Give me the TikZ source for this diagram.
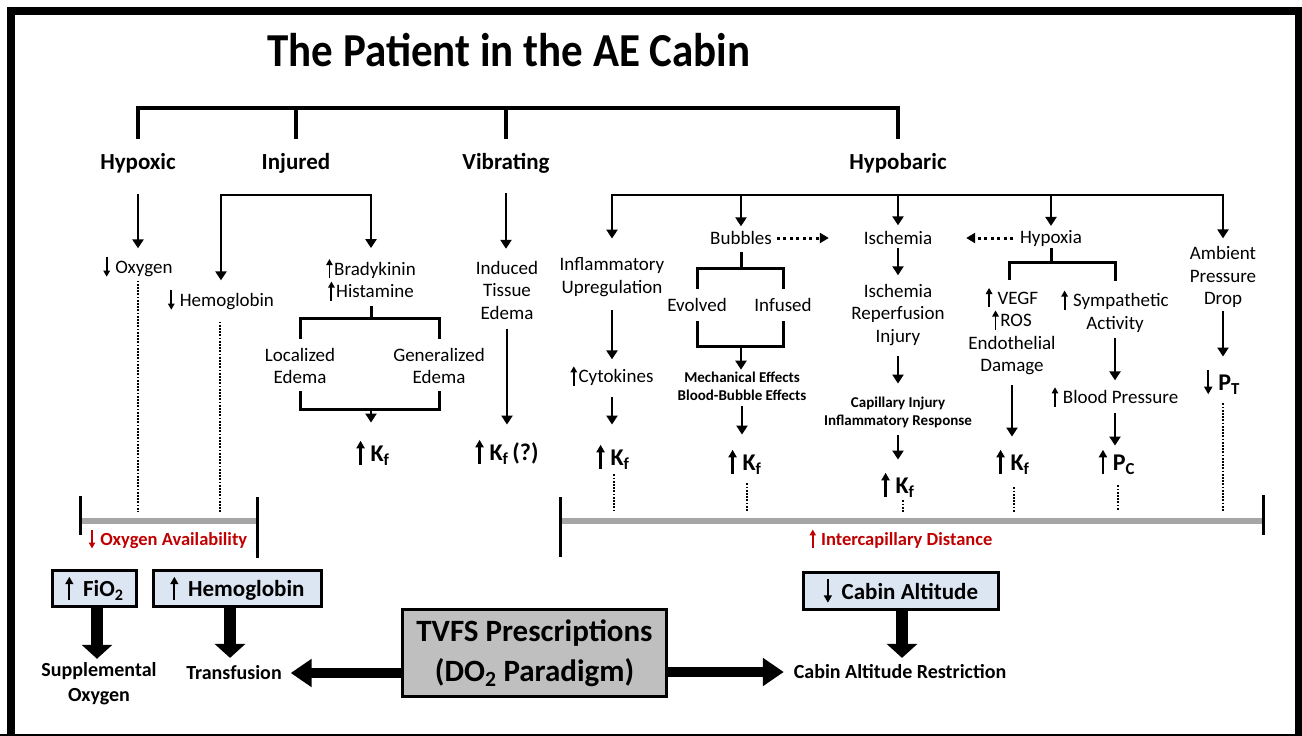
\documentclass[tikz,border=0pt]{standalone}
\usepackage{fontspec}
\setmainfont{Carlito}
\usepackage{graphicx}
\usetikzlibrary{arrows.meta,calc}
\definecolor{boxblue}{HTML}{DCE6F2}
\definecolor{boxgray}{HTML}{BFBFBF}
\definecolor{barg}{HTML}{A6A6A6}
\definecolor{redt}{HTML}{C00000}
\newcommand\UA{\tikz[baseline=0pt]\draw[line width=0.1em,-{Triangle[width=0.34em,length=0.32em]}] (0pt,-0.16em) -- (0pt,0.86em);\hspace{0.08em}}
\newcommand\DA{\tikz[baseline=0pt]\draw[line width=0.1em,-{Triangle[width=0.34em,length=0.32em]}] (0pt,0.86em) -- (0pt,-0.16em);\hspace{0.08em}}
\newcommand\gap{\hspace{0.2em}}
\begin{document}
\begin{tikzpicture}[x=1pt,y=-1pt,
  every node/.style={inner sep=0pt,outer sep=0pt,align=center},
  txt/.style={font=\fontsize{19}{22.5}\selectfont},
  cat/.style={font=\bfseries\fontsize{23}{27}\selectfont},
  sml/.style={font=\bfseries\fontsize{15}{18}\selectfont},
  kf/.style={font=\bfseries\fontsize{24}{28}\selectfont},
  redlbl/.style={text=redt,font=\bfseries\fontsize{18.5}{22}\selectfont},
  bot/.style={font=\bfseries\fontsize{20}{25}\selectfont},
  bbox/.style={draw,line width=3pt,fill=boxblue,minimum height=36pt,font=\bfseries\fontsize{23}{27}\selectfont},
  gbox/.style={draw,line width=3pt,fill=boxgray,minimum width=264pt,minimum height=87pt,font=\bfseries\fontsize{31}{40}\selectfont},
  topbr/.style={line width=4.5pt,line cap=rect},
  ln/.style={line width=3pt,line cap=rect},
  arr/.style={line width=2.8pt,line cap=rect,-{Triangle[width=11pt,length=9pt]}},
  dotl/.style={line width=2.8pt,dash pattern=on 1.7pt off 1.5pt},
  darr/.style={line width=3pt,dash pattern=on 3pt off 3.5pt,-{Triangle[width=10pt,length=9pt]}},
  thk/.style={line width=12pt,-{Triangle[width=30pt,length=14pt]}},
  htarr/.style={line width=10pt,-{Triangle[width=27pt,length=21pt]}},
  bar/.style={line width=6pt,draw=barg},
  tick/.style={line width=3pt}
]
\useasboundingbox (0,0) rectangle (1302,736);
% frame
\draw[line width=8pt] (11,736) -- (11,11) -- (1298.5,11) -- (1298.5,736);
\draw[line width=2pt] (0,735) -- (1302,735);

% title
\node[font=\bfseries\fontsize{43}{50}\selectfont] (title) at (509,50) {\scalebox{1}[1.1]{The Patient in the AE Cabin}};

% categories
\node[cat] (hypoxic) at (138,163) {Hypoxic};
\node[cat] (injured) at (296,163) {Injured};
\node[cat] (vibr) at (506,163) {Vibrating};
\node[cat] (hypob) at (898,163) {Hypobaric};
\coordinate (tb) at (0,108);
\coordinate (ts) at (0,137);
\draw[topbr] (hypoxic |- ts) -- (hypoxic |- tb) -- (hypob |- tb) -- (hypob |- ts);
\draw[topbr] (injured |- tb) -- (injured |- ts);
\draw[topbr] (vibr |- tb) -- (vibr |- ts);

% Hypoxic branch
\node[txt] (oxy) at (138,267) {\DA\gap Oxygen};
\draw[arr,shorten <=23pt,shorten >=8pt] (hypoxic.south) -- (hypoxic.south |- oxy.north);

% Injured branch
\coordinate (ij) at (0,195);
\node[txt] (hemo) at (221,300) {\DA\gap Hemoglobin};
\node[txt] (brady) at (371,280) {\UA Bradykinin\\\UA Histamine};
\draw[arr,shorten >=9pt] (brady.north |- ij) -- (hemo.north |- ij) -- (hemo.north);
\draw[arr,shorten >=10pt] (brady.north |- ij) -- (brady.north);
\node[txt] (local) at (300,366) {Localized\\Edema};
\node[txt] (general) at (439,366) {Generalized\\Edema};
\coordinate (b1) at (0,318);
\draw[ln,shorten <=6pt] (brady.south) -- (brady.south |- b1);
\draw[ln,shorten <=11pt,shorten >=11pt] (local.north) -- (local.north |- b1) -- (general.north |- b1) -- (general.north);
\coordinate (b2) at (0,409);
\draw[ln,shorten <=9pt,shorten >=9pt] (local.south) -- (local.south |- b2) -- (general.south |- b2) -- (general.south);
\node[kf] (kf1) at (373,453) {\UA\,K\textsubscript{f}};
\draw[arr,shorten >=17pt] (brady.south |- b2) -- (brady.south |- kf1.north);

% Vibrating branch
\node[txt] (induced) at (507,290) {Induced\\Tissue\\Edema};
\draw[arr,shorten <=21pt,shorten >=12pt] (vibr.south) -- (vibr.south |- induced.north);
\node[kf] (kf2) at (507,452) {\UA\,K\textsubscript{f}\,(?)};
\draw[arr,shorten <=11pt,shorten >=14pt] (induced.south) -- (induced.south |- kf2.north);

% Hypobaric branch
\coordinate (hb) at (0,195);
\node[txt] (inflam) at (612,277) {Inflammatory\\Upregulation};
\node[txt] (bubbles) at (741,238) {Bubbles};
\node[txt] (isch) at (898,238) {Ischemia};
\node[txt] (hypoxia) at (1051,238) {Hypoxia};
\node[txt] (ambient) at (1223,277) {Ambient\\Pressure\\Drop};
\draw[arr,shorten >=19pt] (ambient.north |- hb) -- (inflam.north |- hb) -- (inflam.north);
\draw[arr,shorten >=5pt] (bubbles.north |- hb) -- (bubbles.north);
\draw[arr,shorten >=6pt] (isch.north |- hb) -- (isch.north);
\draw[arr,shorten >=4pt] (hypoxia.north |- hb) -- (hypoxia.north);
\draw[arr,shorten >=8pt] (ambient.north |- hb) -- (ambient.north);

% inflammatory column
\node[txt] (cyto) at (612,376) {\UA Cytokines};
\draw[arr,shorten <=15pt,shorten >=6pt] (inflam.south) -- (inflam.south |- cyto.north);
\node[kf] (kf3) at (613,457) {\UA\,K\textsubscript{f}};
\draw[arr,shorten <=12pt,shorten >=19pt] (cyto.south) -- (cyto.south |- kf3.north);

% bubbles column
\coordinate (bu1) at (0,268);
\node[txt] (evolved) at (697,305) {Evolved};
\node[txt] (infused) at (783,305) {Infused};
\draw[ln,shorten <=9pt] (bubbles.south) -- (bubbles.south |- bu1);
\draw[ln,shorten <=11pt,shorten >=11pt] (evolved.north) -- (evolved.north |- bu1) -- (infused.north |- bu1) -- (infused.north);
\coordinate (bu2) at (0,346);
\draw[ln,shorten <=11pt,shorten >=11pt] (evolved.south) -- (evolved.south |- bu2) -- (infused.south |- bu2) -- (infused.south);
\node[sml] (mech) at (742,386) {Mechanical Effects\\Blood-Bubble Effects};
\draw[arr,shorten >=2pt] (bubbles.south |- bu2) -- (bubbles.south |- mech.north);
\node[kf] (kf4) at (745,462) {\UA\,K\textsubscript{f}};
\draw[arr,shorten <=7pt,shorten >=14pt] (mech.south) -- (mech.south |- kf4.north);
\draw[darr,shorten <=5pt,shorten >=35pt] (bubbles.east) -- (isch.west);

% ischemia column
\draw[darr,shorten <=7pt,shorten >=34pt] (hypoxia.west) -- (isch.east);
\node[txt] (irinj) at (898,315) {Ischemia\\Reperfusion\\Injury};
\draw[arr,shorten <=5pt,shorten >=9pt] (isch.south) -- (isch.south |- irinj.north);
\node[sml] (capinj) at (898,412) {Capillary Injury\\Inflammatory Response};
\draw[arr,shorten <=12pt,shorten >=13pt] (irinj.south) -- (irinj.south |- capinj.north);
\node[kf] (kf5) at (898,485) {\UA\,K\textsubscript{f}};
\draw[arr,shorten <=9pt,shorten >=12pt] (capinj.south) -- (capinj.south |- kf5.north);

% hypoxia column
\coordinate (hy1) at (0,262);
\node[txt] (vegf) at (1012,331) {\UA\gap VEGF\\\UA ROS\\Endothelial\\Damage};
\node[txt] (symp) at (1115,311) {\UA\gap Sympathetic\\Activity};
\draw[ln,shorten <=3pt] (hypoxia.south) -- (hypoxia.south |- hy1);
\draw[ln,shorten <=8pt,shorten >=10pt] ([xshift=-3pt]vegf.north) -- ([xshift=-3pt]vegf.north |- hy1) -- (symp.north |- hy1) -- (symp.north);
\node[kf] (kf6) at (1013,462) {\UA\,K\textsubscript{f}};
\draw[arr,shorten <=11pt,shorten >=12pt] (vegf.south) -- (vegf.south |- kf6.north);
\node[txt] (bp) at (1115,397) {\UA\,Blood Pressure};
\draw[arr,shorten <=7pt,shorten >=6pt] (symp.south) -- (symp.south |- bp.north);
\node[kf] (pc) at (1117,462) {\UA\,P\textsubscript{C}};
\draw[arr,shorten <=7pt,shorten >=3pt] (bp.south) -- (bp.south |- pc.north);

% ambient column
\node[kf] (pt) at (1222,382) {\DA\,P\textsubscript{T}};
\draw[arr,shorten <=5pt,shorten >=12pt] (ambient.south) -- (ambient.south |- pt.north);

% bars
\coordinate (bl1) at (80,521);
\coordinate (bl2) at (257,521);
\coordinate (br1) at (560,521);
\coordinate (br2) at (1263,521);
\draw[bar] (bl1) -- (bl2);
\draw[bar] (br1) -- (br2);
\draw[tick] (bl1) ++(0,-25) -- ++(0,39);
\draw[tick] (bl2) ++(0,-24) -- ++(0,61);
\draw[tick] (br1) ++(0,-24) -- ++(0,60);
\draw[tick] (br2) ++(0,-26) -- ++(0,40);

% dotted lines
\draw[dotl,shorten <=3pt,shorten >=9pt] (oxy.south) -- (oxy.south |- bl1);
\draw[dotl,shorten <=11pt,shorten >=9pt] ([xshift=-1pt]hemo.south) -- ([xshift=-1pt]hemo.south |- bl1);
\draw[dotl,shorten <=4pt,shorten >=9pt] ([xshift=1pt]kf3.south) -- ([xshift=1pt]kf3.south |- br1);
\draw[dotl,shorten <=8pt,shorten >=9pt] ([xshift=2pt]kf4.south) -- ([xshift=2pt]kf4.south |- br1);
\draw[dotl,shorten <=2pt,shorten >=9pt] ([xshift=5pt]kf5.south) -- ([xshift=5pt]kf5.south |- br1);
\draw[dotl,shorten <=12pt,shorten >=9pt] ([xshift=1pt]kf6.south) -- ([xshift=1pt]kf6.south |- br1);
\draw[dotl,shorten <=10pt,shorten >=11pt] ([xshift=1pt]pc.south) -- ([xshift=1pt]pc.south |- br1);
\draw[dotl,shorten <=8pt,shorten >=9pt] ([xshift=1pt]pt.south) -- ([xshift=1pt]pt.south |- br1);

% red labels
\node[redlbl] (oav) at (168,539) {\DA\gap Oxygen Availability};
\node[redlbl] (icd) at (901,539) {\UA\gap Intercapillary Distance};

% boxes
\node[bbox,minimum width=84pt] (fio2) at (94.5,588.5) {\UA\hspace{0.35em}FiO\textsubscript{2}};
\node[bbox,minimum width=168pt] (hbbox) at (237.5,588.5) {\UA\hspace{0.35em}Hemoglobin};
\node[bbox,minimum width=195pt,minimum height=37pt] (cabbox) at (901,591) {\DA\hspace{0.35em}Cabin Altitude};
\node[gbox] (tvfs) at (534.5,653) {TVFS Prescriptions\\(DO\textsubscript{2} Paradigm)};
\node[bot] (suppl) at (99,684) {Supplemental\\Oxygen};
\node[bot] (transf) at (234,673) {Transfusion};
\node[bot] (restr) at (900,672) {Cabin Altitude Restriction};

\draw[thk,shorten >=4pt] ([xshift=2.5pt]fio2.south) -- ([xshift=2.5pt]fio2.south |- suppl.north);
\draw[thk,shorten >=8pt] ([xshift=-7.5pt]hbbox.south) -- ([xshift=-7.5pt]hbbox.south |- transf.north);
\draw[thk,shorten >=7pt] ([xshift=1pt]cabbox.south) -- ([xshift=1pt]cabbox.south |- restr.north);
\draw[htarr,shorten >=9pt] (tvfs.west |- transf) -- (transf.east);
\draw[htarr,shorten >=10pt] (tvfs.east |- restr) -- (restr.west);
\end{tikzpicture}
\end{document}
